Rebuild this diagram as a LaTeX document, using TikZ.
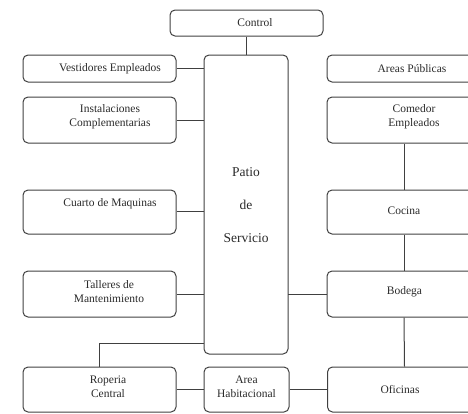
\documentclass[tikz,border=0pt]{standalone}
\usepackage{fontspec}
\setmainfont{Liberation Serif}
\definecolor{ln}{HTML}{404040}
\definecolor{tx}{HTML}{2A2A2A}
\begin{document}
\begin{tikzpicture}[x=1pt,y=-1pt,
  box/.style={draw=ln,line width=1pt,rounded corners=5pt,inner sep=0pt},
  lbl/.style={text=tx,align=center,font=\fontsize{11.5}{14}\selectfont,inner sep=0pt},
  big/.style={text=tx,align=center,font=\fontsize{13.5}{16}\selectfont,inner sep=0pt},
  conn/.style={draw=ln,line width=1pt}]
\useasboundingbox (0,0) rectangle (468,413);
\clip (0,0) rectangle (468,413);
% boxes
\node[box,minimum width=153pt,minimum height=26pt] (control) at (246.5,23) {};
\node[box,minimum width=84pt,minimum height=299pt] (patio) at (246,204.5) {};
\node[box,minimum width=153pt,minimum height=27pt] (vest) at (99.5,68.5) {};
\node[box,minimum width=153pt,minimum height=46pt] (inst) at (99.5,120) {};
\node[box,minimum width=153pt,minimum height=44pt] (cuarto) at (99.5,212) {};
\node[box,minimum width=153pt,minimum height=46pt] (talleres) at (99.5,294) {};
\node[box,minimum width=153pt,minimum height=45pt] (roperia) at (99.5,389.5) {};
\node[box,minimum width=85pt,minimum height=45pt] (area) at (246.5,389.5) {};
\node[box,minimum width=154pt,minimum height=45pt] (oficinas) at (404.5,389.5) {};
\node[box,minimum width=154pt,minimum height=27pt] (publicas) at (404,68.5) {};
\node[box,minimum width=154pt,minimum height=46pt] (comedor) at (404,120) {};
\node[box,minimum width=154pt,minimum height=44pt] (cocina) at (404,212) {};
\node[box,minimum width=154pt,minimum height=46pt] (bodega) at (404,294) {};
% texts
\node[lbl] (control-t) at (255,23) {Control};
\node[big] (patio-t1) at (246,172) {Patio};
\node[big] (patio-t2) at (246,205) {de};
\node[big] (patio-t3) at (246,238) {Servicio};
\node[lbl] (vest-t) at (110,68.5) {Vestidores Empleados};
\node[lbl] (inst-t) at (110,117) {Instalaciones\\Complementarias};
\node[lbl] (cuarto-t) at (110,204) {Cuarto de Maquinas};
\node[lbl] (talleres-t) at (109,292) {Talleres de\\Mantenimiento};
\node[lbl] (roperia-t) at (108,387) {Roperia\\Central};
\node[lbl] (area-t) at (246.5,387) {Area\\Habitacional};
\node[lbl] (oficinas-t) at (400,389.5) {Oficinas};
\node[lbl] (publicas-t) at (412,68.5) {Areas Públicas};
\node[lbl] (comedor-t) at (414,117) {Comedor\\Empleados};
\node[lbl] (cocina-t) at (404,211) {Cocina};
\node[lbl] (bodega-t) at (404.5,292) {Bodega};
% connectors
\coordinate (pv) at (204,68.5);
\coordinate (pi) at (204,120);
\coordinate (pc) at (204,211);
\coordinate (pt) at (204,294);
\coordinate (pr) at (204,343);
\coordinate (pb) at (288,294);
\draw[conn] (control.south) -- (control.south |- patio.north);
\draw[conn] (vest.east) -- (pv);
\draw[conn] (inst.east) -- (pi);
\draw[conn] (cuarto.east |- pc) -- (pc);
\draw[conn] (talleres.east) -- (pt);
\draw[conn] (pr) -| (roperia.north);
\draw[conn] (roperia.east) -- (area.west);
\draw[conn] (area.east) -- (oficinas.west);
\draw[conn] (pb) -- (bodega.west);
\draw[conn] (comedor.south) -- (cocina.north);
\draw[conn] (cocina.south) -- (bodega.north);
\draw[conn] (bodega.south) -- (oficinas.north);
\end{tikzpicture}
\end{document}
